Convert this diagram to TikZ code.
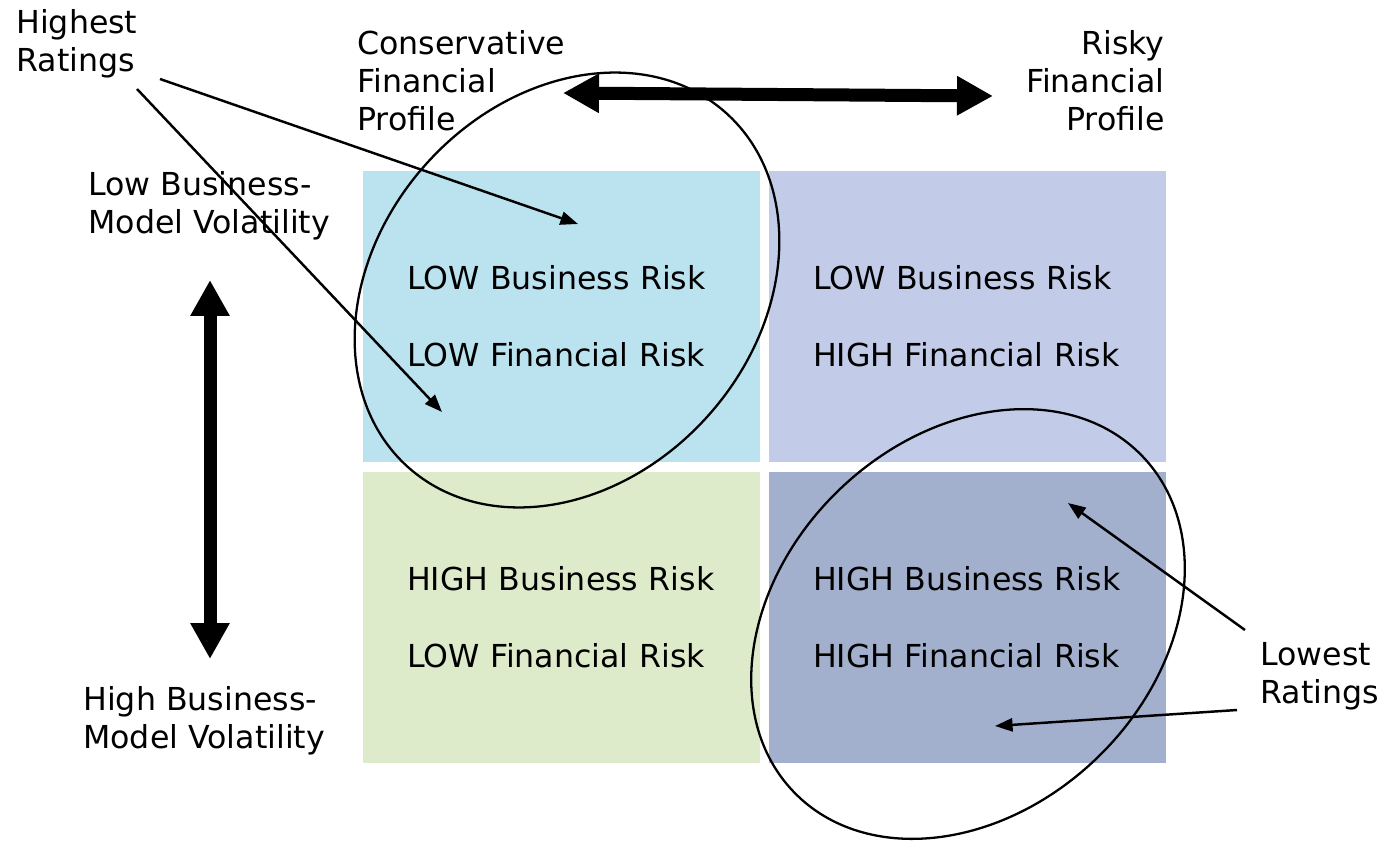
\documentclass[tikz,border=0pt]{standalone}
\usepackage{fontspec}
\setmainfont{DejaVu Sans}
\usetikzlibrary{arrows.meta}
\definecolor{lowlow}{HTML}{BBE3EF}
\definecolor{lowhigh}{HTML}{C2CCE8}
\definecolor{highlow}{HTML}{DEEBCA}
\definecolor{highhigh}{HTML}{A3B0CD}

\begin{document}
\begin{tikzpicture}[x=0.02cm, y=-0.02cm,
  quad/.style={minimum width=7.94cm, minimum height=5.84cm, text width=6.18cm,
    inner xsep=0.88cm, inner ysep=0pt, align=left,
    font=\fontsize{18}{43.7}\selectfont},
  lbl/.style={inner sep=0pt, align=left, font=\fontsize{18}{21.6}\selectfont},
  bigarrow/.style={line width=0.26cm,
    {Triangle[length=0.72cm,width=0.74cm]}-{Triangle[length=0.72cm,width=0.74cm]}},
  pointer/.style={line width=1.4pt, -{Triangle[length=10pt,width=7.5pt]}},
  ring/.style={line width=1.3pt}]
  \useasboundingbox (0,0) rectangle (1383,842);

  \node[quad, fill=lowlow] (tl) at (561.5,316.5) {LOW Business Risk\\LOW Financial Risk};
  \node[quad, fill=lowhigh] (tr) at (967.5,316.5) {LOW Business Risk\\HIGH Financial Risk};
  \node[quad, fill=highlow] (bl) at (561.5,617.5) {HIGH Business Risk\\LOW Financial Risk};
  \node[quad, fill=highhigh] (br) at (967.5,617.5) {HIGH Business Risk\\HIGH Financial Risk};

  \node[lbl, anchor=base west] (highest) at (16,71) {Highest\\Ratings};
  \node[lbl, anchor=base west] (conservative) at (357,130) {Conservative\\Financial\\Profile};
  \node[lbl, anchor=base east, align=right] (risky) at (1165,130) {Risky\\Financial\\Profile};
  \node[lbl, anchor=base west] (lowvol) at (88,233) {Low Business-\\Model Volatility};
  \node[lbl, anchor=base west] (highvol) at (83,748) {High Business-\\Model Volatility};
  \node[lbl, anchor=base west] (lowest) at (1260,703) {Lowest\\Ratings};

  \coordinate (up) at (210,280);
  \coordinate (down) at (210,659);
  \coordinate (left) at (563,93);
  \coordinate (right) at (993,96);
  \draw[bigarrow] (up) -- (down);
  \draw[bigarrow] (left) -- (right);

  \draw[ring, shift={(567,290)}, rotate=48] (0,0) ellipse [x radius=238, y radius=189];
  \draw[ring, shift={(968,624)}, rotate=44] (0,0) ellipse [x radius=242, y radius=186];

  \coordinate (hs1) at (160,79);
  \coordinate (hs2) at (137,89);
  \coordinate (he1) at (578,224);
  \coordinate (he2) at (442,412);
  \coordinate (ls1) at (1245,630);
  \coordinate (ls2) at (1237,710);
  \coordinate (le1) at (1068,503);
  \coordinate (le2) at (995,726);
  \draw[pointer] (hs1) -- (he1);
  \draw[pointer] (hs2) -- (he2);
  \draw[pointer] (ls1) -- (le1);
  \draw[pointer] (ls2) -- (le2);
\end{tikzpicture}
\end{document}
